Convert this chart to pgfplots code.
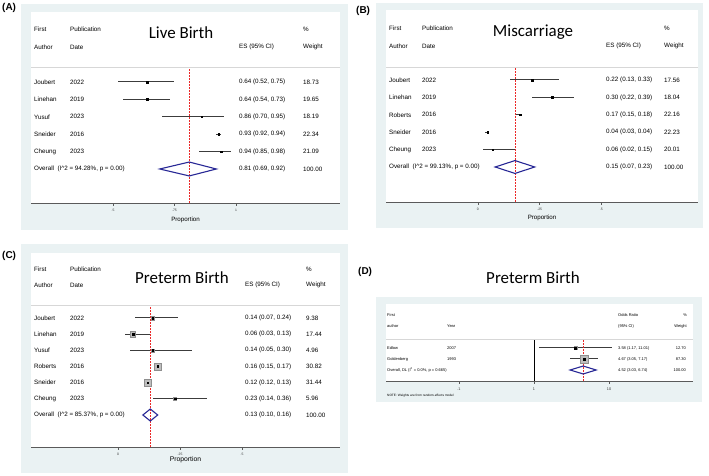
\documentclass[border=0pt]{standalone}
\usepackage{fontspec}
\setmainfont{Liberation Sans}
\newfontfamily\titlefont{Carlito}
\usepackage{pgfplots}
\usepackage{pgfplotstable}
\pgfplotsset{compat=1.18}

\definecolor{stbg}{RGB}{234,242,243}
\definecolor{axgray}{RGB}{90,90,90}
\definecolor{cigray}{RGB}{60,60,60}
\definecolor{sepgray}{RGB}{215,215,215}
\definecolor{boxgray}{RGB}{190,190,190}
\definecolor{ovred}{RGB}{235,40,40}
\definecolor{navy}{RGB}{40,40,150}

\newcommand\ft{\fontsize{6.3}{7.5}\selectfont}
\newcommand\fd{\fontsize{4}{5}\selectfont}

% row est lo hi weight  (rows counted from the bottom, overall = 1)
\pgfplotstableread{
row est lo hi w
6 0.64 0.52 0.75 18.73
5 0.64 0.54 0.73 19.65
4 0.86 0.70 0.95 18.19
3 0.93 0.92 0.94 22.34
2 0.94 0.85 0.98 21.09
}\liveA
\pgfplotstableread{
row est lo hi w
6 0.22 0.13 0.33 17.56
5 0.30 0.22 0.39 18.04
4 0.17 0.15 0.18 22.16
3 0.04 0.03 0.04 22.23
2 0.06 0.02 0.15 20.01
}\miscB
\pgfplotstableread{
row est lo hi w
7 0.14 0.07 0.24 9.38
6 0.06 0.03 0.13 17.44
5 0.14 0.05 0.30 4.96
4 0.16 0.15 0.17 30.82
3 0.12 0.12 0.13 31.44
2 0.23 0.14 0.36 5.96
}\pretC
\pgfplotstableread{
row est lo hi w
3 3.58 1.17 11.01 12.70
2 4.67 3.05 7.17 87.30
}\pretD

\pgfplotsset{
  forest/.style={
    scale only axis, anchor=south west, clip=false,
    axis x line*=bottom, axis y line=none, ytick=\empty,
    axis line style={line width=0.9bp, draw=axgray},
    tick align=outside, major tick length=3bp,
    tick style={line width=0.8bp, draw=axgray},
    /pgf/number format/assume math mode=true,
    xticklabel style={font=\fontsize{3.4}{4}\selectfont, text=black!80},
    xlabel style={font=\fontsize{6.2}{7}\selectfont, at={(axis description cs:0.5,0)}, anchor=center},
  },
  ci/.style={only marks, mark=square*, mark size=0.85bp, black,
    error bars/x dir=both, error bars/x explicit, error bars/error mark=none,
    error bars/error bar style={line width=1bp, cigray}},
  wbox/.style={scatter, only marks, mark=square*,
    scatter/use mapped color={draw=boxgray!75!black, fill=boxgray},
    visualization depends on={#1*sqrt(\thisrow{w}) \as \bsz},
    scatter/@pre marker code/.append style={/tikz/mark size=\bsz}},
  ovline/.style={ovred, line width=0.8bp, dash pattern=on 1.5bp off 1.5bp},
  % overall line drawn as an upward error bar from ymin
  ovbar/.style={mark=none, error bars/y dir=plus, error bars/y explicit, error bars/error mark=none,
    error bars/error bar style={draw=ovred, line width=0.9bp, dash pattern=on 1.5bp off 1.5bp}},
  dmd/.style={navy, line width=1.1bp},
}

\begin{document}
\begin{tikzpicture}[x=1bp, y=1bp,
  txt/.style={anchor=west, inner sep=0pt, font=\ft},
  txd/.style={anchor=west, inner sep=0pt, font=\fd},
  pan/.style={anchor=west, inner sep=0pt, font=\bfseries\fontsize{10}{12}\selectfont},
  ttl/.style={inner sep=0pt, font=\titlefont\fontsize{17}{20}\selectfont}]
\useasboundingbox (0,0) rectangle (709,476);

% panel backgrounds
\fill[stbg] (21,246) rectangle (348,472);
\fill[stbg] (376,248) rectangle (703,473);
\fill[stbg] (21,3) rectangle (348,232);
\fill[stbg] (376,74) rectangle (702,179);
\fill[white] (31,273) rectangle (340,464);
\fill[white] (386,274) rectangle (698,466);
\fill[white] (31,29) rectangle (340,223);
\fill[white] (386,95) rectangle (693,172);
\draw[sepgray, line width=1bp] (31,408) -- (340,408);
\draw[sepgray, line width=1bp] (386,408) -- (698,408);
\draw[sepgray, line width=1bp] (31,170) -- (340,170);
\draw[sepgray, line width=1bp] (386,136) -- (693,136);

% (C) preterm birth
\begin{axis}[forest, at={(31bp,29bp)}, width=309bp, height=194bp,
  xmin=-0.351, xmax=0.895, ymin=-0.979, ymax=11.02,
  xtick={0,0.25,0.5}, xticklabels={0,.25,.5},
  xlabel={Proportion}, xlabel style={yshift=-13bp, font=\fontsize{6.8}{8}\selectfont}]
\addplot[wbox=0.63] table[x=est, y=row, meta=w] {\pretC};
\addplot[ci] table[x=est, y=row, x error plus expr=\thisrow{hi}-\thisrow{est}, x error minus expr=\thisrow{est}-\thisrow{lo}] {\pretC};
\addplot[ovline] coordinates {(0.13,-0.979) (0.13,7.74)};
\addplot[dmd] coordinates {(0.10,1) (0.13,1.37) (0.16,1) (0.13,0.63)} -- cycle;
\end{axis}

% (D) preterm birth, odds ratios
\begin{axis}[forest, at={(386bp,95bp)}, width=307bp, height=77bp,
  xmode=log, xmin=0.01064, xmax=131.8, ymin=0, ymax=7,
  xtick={0.1,1,10}, xticklabels={.1,1,10}, xminorticks=false,
  xticklabel style={font=\fontsize{3.8}{4.5}\selectfont}]
\addplot[black, line width=1bp] coordinates {(1,0) (1,3.73)};
\addplot[wbox=0.41] table[x=est, y=row, meta=w] {\pretD};
\addplot[cigray, line width=1bp] coordinates {(1.17,3) (11.01,3)};
\addplot[cigray, line width=1bp] coordinates {(3.05,2) (7.17,2)};
\addplot[only marks, mark=square*, mark size=0.85bp, black] table[x=est, y=row] {\pretD};
\addplot[ovline] coordinates {(4.52,0) (4.52,3.73)};
\addplot[dmd] coordinates {(3.03,1) (4.52,1.36) (6.74,1) (4.52,0.64)} -- cycle;
\end{axis}

% (A) live birth
\begin{axis}[forest, at={(31bp,273bp)}, width=309bp, height=191bp,
  xmin=0.1667, xmax=1.4228, ymin=-0.954, ymax=10.023,
  xtick={0.5,0.75,1}, xticklabels={.5,.75,1},
  xlabel={Proportion}, xlabel style={yshift=-17bp}]
\addplot[ci] table[x=est, y=row, x error plus expr=\thisrow{hi}-\thisrow{est}, x error minus expr=\thisrow{est}-\thisrow{lo}] {\liveA};
\addplot[ovline] coordinates {(0.81,-0.954) (0.81,6.8)};
\addplot[ovbar] coordinates {(0.81,-0.954) +- (0,7.754)};
\addplot[dmd] coordinates {(0.69,1) (0.81,1.4) (0.92,1) (0.81,0.6)} -- cycle;
\end{axis}

% (B) miscarriage
\begin{axis}[forest, at={(386bp,274bp)}, width=312bp, height=192bp,
  xmin=-0.372, xmax=0.891, ymin=-1.011, ymax=10.023,
  xtick={0,0.25,0.5}, xticklabels={0,.25,.5},
  xlabel={Proportion}, xlabel style={yshift=-16bp}]
\addplot[ci] table[x=est, y=row, x error plus expr=\thisrow{hi}-\thisrow{est}, x error minus expr=\thisrow{est}-\thisrow{lo}] {\miscB};
\addplot[ovline] coordinates {(0.15,-1.011) (0.15,6.69)};
\addplot[ovbar] coordinates {(0.15,-1.011) +- (0,7.701)};
\addplot[dmd] coordinates {(0.07,1) (0.15,1.37) (0.23,1) (0.15,0.63)} -- cycle;
\end{axis}

% text, panel A
\node[pan] at (2,468) {(A)};
\node[ttl] at (181,443) {Live Birth};
\node[txt] at (34,447) {First}; \node[txt] at (70,447) {Publication}; \node[txt] at (303,447) {\%};
\node[txt] at (34,429) {Author}; \node[txt] at (70,429) {Date};
\node[txt] at (239,429) {ES (95\% CI)}; \node[txt] at (303,429) {Weight};
\foreach \y/\a/\d/\e/\w in {394/Joubert/2022/{0.64 (0.52, 0.75)}/18.73,
  376.6/Linehan/2019/{0.64 (0.54, 0.73)}/19.65, 359.2/Yusuf/2023/{0.86 (0.70, 0.95)}/18.19,
  341.8/Sneider/2016/{0.93 (0.92, 0.94)}/22.34, 324.4/Cheung/2023/{0.94 (0.85, 0.98)}/21.09}
  {\node[txt] at (34,\y) {\a}; \node[txt] at (70,\y) {\d};
   \node[txt] at (239,\y) {\e}; \node[txt] at (303,\y) {\w};}
\node[txt] at (34,307) {Overall\ \ (I\textasciicircum 2 = 94.28\%, p = 0.00)};
\node[txt] at (239,307) {0.81 (0.69, 0.92)}; \node[txt] at (303,307) {100.00};

% text, panel B
\node[pan] at (356,465) {(B)};
\node[ttl] at (533,444) {Miscarriage};
\node[txt] at (389,448) {First}; \node[txt] at (422,448) {Publication}; \node[txt] at (664,448) {\%};
\node[txt] at (389,430) {Author}; \node[txt] at (422,430) {Date};
\node[txt] at (606,430) {ES (95\% CI)}; \node[txt] at (664,430) {Weight};
\foreach \y/\a/\d/\e/\w in {396/Joubert/2022/{0.22 (0.13, 0.33)}/17.56,
  378.6/Linehan/2019/{0.30 (0.22, 0.39)}/18.04, 361.2/Roberts/2016/{0.17 (0.15, 0.18)}/22.16,
  343.8/Sneider/2016/{0.04 (0.03, 0.04)}/22.23, 326.4/Cheung/2023/{0.06 (0.02, 0.15)}/20.01}
  {\node[txt] at (389,\y) {\a}; \node[txt] at (422,\y) {\d};
   \node[txt] at (606,\y) {\e}; \node[txt] at (664,\y) {\w};}
\node[txt] at (389,309) {Overall\ \ (I\textasciicircum 2 = 99.13\%, p = 0.00)};
\node[txt] at (606,309) {0.15 (0.07, 0.23)}; \node[txt] at (664,309) {100.00};

% text, panel C
\node[pan] at (2,220) {(C)};
\node[ttl] at (182,198) {Preterm Birth};
\node[txt] at (34,207) {First}; \node[txt] at (70,207) {Publication}; \node[txt] at (306,207) {\%};
\node[txt] at (34,191) {Author}; \node[txt] at (70,191) {Date};
\node[txt] at (245,191) {ES (95\% CI)}; \node[txt] at (306,191) {Weight};
\foreach \y/\a/\d/\e/\w in {158/Joubert/2022/{0.14 (0.07, 0.24)}/9.38,
  141.8/Linehan/2019/{0.06 (0.03, 0.13)}/17.44, 125.7/Yusuf/2023/{0.14 (0.05, 0.30)}/4.96,
  109.5/Roberts/2016/{0.16 (0.15, 0.17)}/30.82, 93.3/Sneider/2016/{0.12 (0.12, 0.13)}/31.44,
  77.2/Cheung/2023/{0.23 (0.14, 0.36)}/5.96}
  {\node[txt] at (34,\y) {\a}; \node[txt] at (70,\y) {\d};
   \node[txt] at (245,\y) {\e}; \node[txt] at (306,\y) {\w};}
\node[txt] at (34,61) {Overall\ \ (I\textasciicircum 2 = 85.37\%, p = 0.00)};
\node[txt] at (245,61) {0.13 (0.10, 0.16)}; \node[txt] at (306,61) {100.00};

% text, panel D
\node[pan] at (358,204) {(D)};
\node[ttl] at (533,198) {Preterm Birth};
\node[txd] at (387,161) {First}; \node[txd] at (387,150) {author}; \node[txd] at (447,150) {Year};
\node[txd] at (618,161) {Odds Ratio}; \node[txd] at (618,150) {(95\% CI)};
\node[txd, anchor=east] at (687,161) {\%}; \node[txd, anchor=east] at (687,150) {Weight};
\foreach \y/\a/\d/\e/\w in {128/Edlow/2007/{3.58 (1.17, 11.01)}/12.70,
  117/Goldenberg/1993/{4.67 (3.05, 7.17)}/87.30}
  {\node[txd] at (387,\y) {\a}; \node[txd] at (447,\y) {\d};
   \node[txd] at (618,\y) {\e}; \node[txd, anchor=east] at (686,\y) {\w};}
\node[txd] at (387,106) {Overall, DL (I\textsuperscript{2} = 0.0\%, p = 0.665)};
\node[txd] at (618,106) {4.52 (3.03, 6.74)}; \node[txd, anchor=east] at (686,106) {100.00};
\node[anchor=west, inner sep=0pt, font=\fontsize{3.2}{4}\selectfont] at (387,80) {NOTE: Weights are from random-effects model};
\end{tikzpicture}
\end{document}
